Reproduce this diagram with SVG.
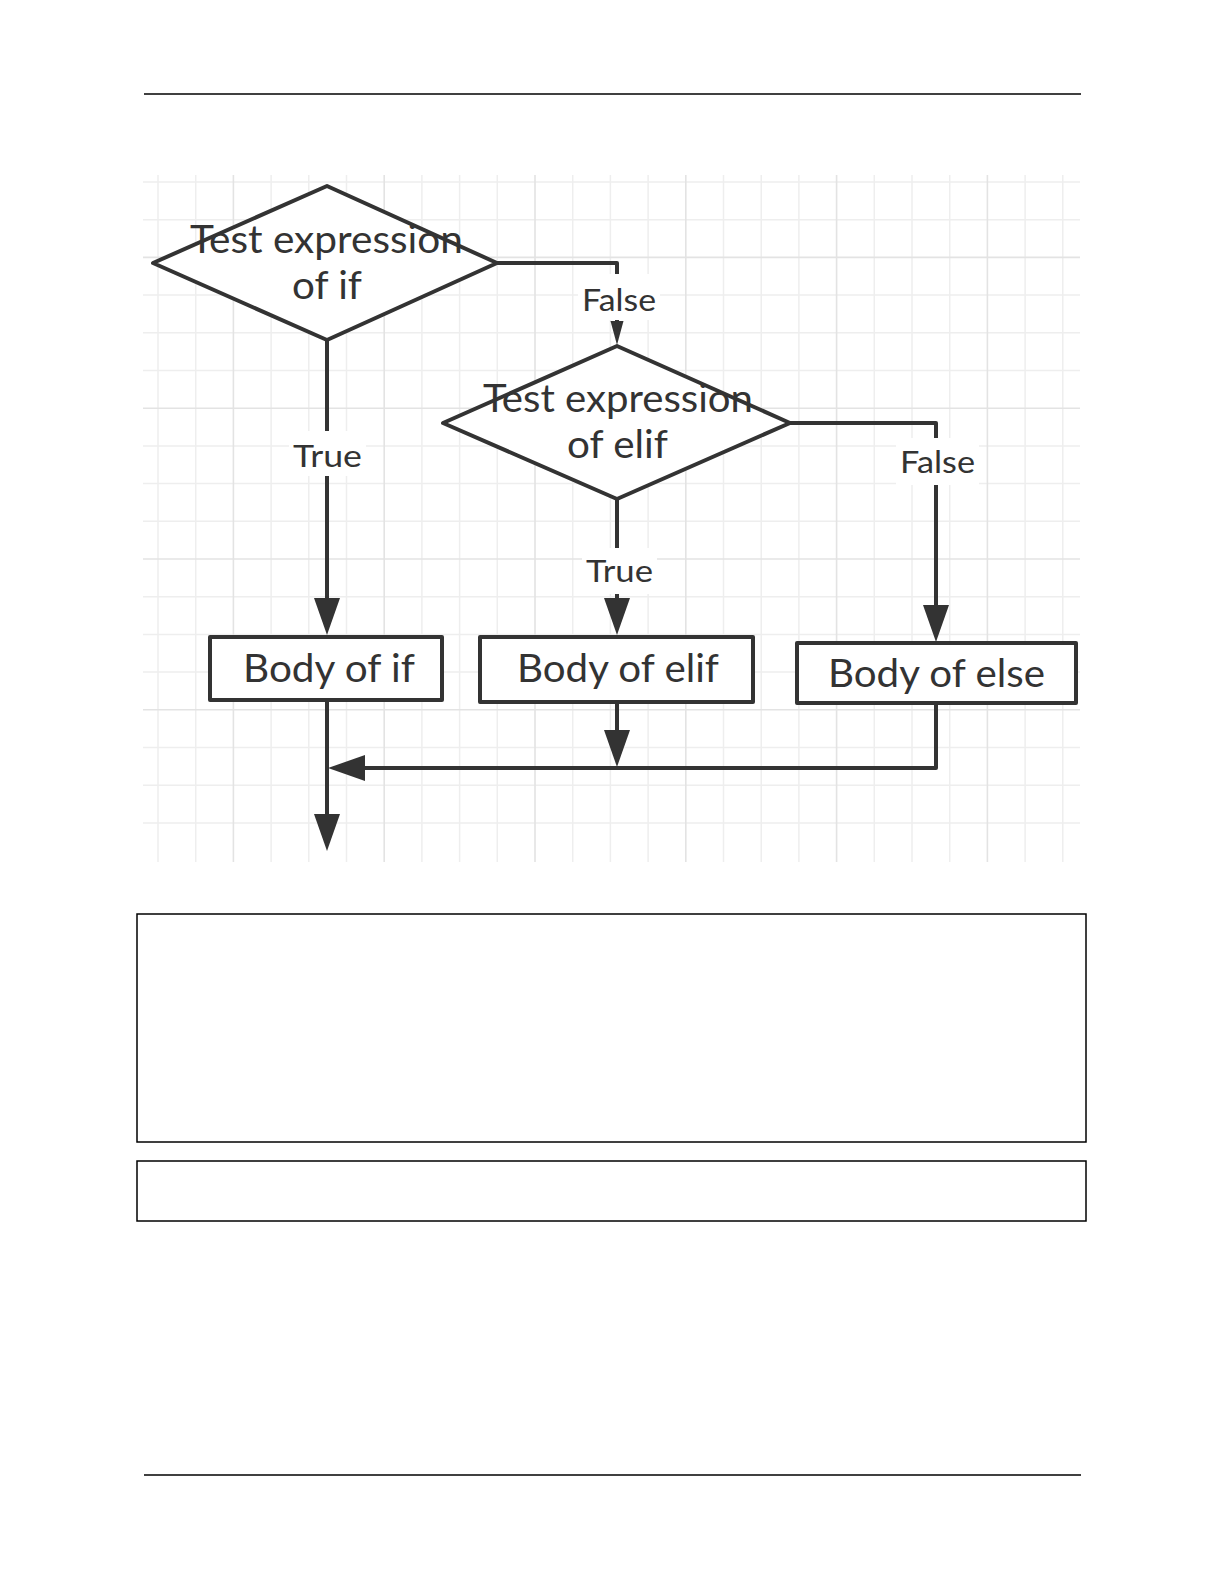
<svg xmlns="http://www.w3.org/2000/svg" width="1224" height="1584" viewBox="0 0 1224 1584">
  <style>
    .grid { fill: none; stroke: #eeeeee; stroke-width: 1.5; }
    .gridMajor { fill: none; stroke: #e3e3e3; stroke-width: 1.6; }
    .shape { fill: #ffffff; stroke: #333333; stroke-width: 4; stroke-linejoin: round; }
    .conn { fill: none; stroke: #333333; stroke-width: 4; stroke-linejoin: round; }
    .txt { font-family: Lato, "Open Sans", "Noto Sans", sans-serif; fill: #333333; text-anchor: middle; }
    .big { font-size: 38px; }
    .lbl { font-size: 31px; }
    .lblbg { fill: #ffffff; stroke: none; }
    .rule { stroke: #000000; stroke-width: 1.5; fill: none; }
  </style>
  <defs>
    <marker id="arrowBig" markerUnits="userSpaceOnUse" markerWidth="38" markerHeight="28" refX="0" refY="13" orient="auto">
      <path d="M0,0 L37,13 L0,26 Z" fill="#333333"/>
    </marker>
    <marker id="arrowSmall" markerUnits="userSpaceOnUse" markerWidth="26" markerHeight="14" refX="0" refY="6.5" orient="auto">
      <path d="M0,0 L24,6.5 L0,13 Z" fill="#333333"/>
    </marker>
  </defs>

  <rect x="0" y="0" width="1224" height="1584" fill="#ffffff"/>

  <!-- page rules -->
  <line class="rule" x1="144" y1="94" x2="1081" y2="94"/>
  <line class="rule" x1="144" y1="1475" x2="1081" y2="1475"/>

  <!-- grid background -->
  <g id="grid">
    <path class="grid" d="M158 175V862M195.7 175V862M271.1 175V862M308.8 175V862M346.5 175V862M421.9 175V862M459.6 175V862M497.3 175V862M572.7 175V862M610.4 175V862M648.1 175V862M723.5 175V862M761.2 175V862M798.9 175V862M874.3 175V862M912 175V862M949.7 175V862M1025.1 175V862M1062.8 175V862"/>
    <path class="grid" d="M143 182H1080M143 219.7H1080M143 295.1H1080M143 332.8H1080M143 370.5H1080M143 445.9H1080M143 483.6H1080M143 521.3H1080M143 596.7H1080M143 634.4H1080M143 672.1H1080M143 747.5H1080M143 785.2H1080M143 822.9H1080"/>
    <path class="gridMajor" d="M233.4 175V862M384.2 175V862M535 175V862M685.8 175V862M836.6 175V862M987.4 175V862M143 257.4H1080M143 408.2H1080M143 559H1080M143 709.8H1080"/>
  </g>

  <!-- connectors -->
  <g id="connectors">
    <path class="conn" d="M497,263 H617 V321" marker-end="url(#arrowSmall)"/>
    <path class="conn" d="M327,340 V598" marker-end="url(#arrowBig)"/>
    <path class="conn" d="M617,499 V598" marker-end="url(#arrowBig)"/>
    <path class="conn" d="M790,423 H936 V605" marker-end="url(#arrowBig)"/>
    <path class="conn" d="M936,703 V768 H365" marker-end="url(#arrowBig)"/>
    <path class="conn" d="M617,702 V730" marker-end="url(#arrowBig)"/>
    <path class="conn" d="M327,700 V814" marker-end="url(#arrowBig)"/>

    <g id="label-false-1">
      <rect class="lblbg" x="578" y="274" width="82" height="46"/>
      <text class="txt lbl" x="619" y="311" textLength="74" lengthAdjust="spacingAndGlyphs">False</text>
    </g>
    <g id="label-true-1">
      <rect class="lblbg" x="289" y="431" width="77" height="45"/>
      <text class="txt lbl" x="327.5" y="467" textLength="69" lengthAdjust="spacingAndGlyphs">True</text>
    </g>
    <g id="label-true-2">
      <rect class="lblbg" x="582" y="548" width="75" height="46"/>
      <text class="txt lbl" x="619.5" y="582" textLength="67" lengthAdjust="spacingAndGlyphs">True</text>
    </g>
    <g id="label-false-2">
      <rect class="lblbg" x="896" y="438" width="83" height="47"/>
      <text class="txt lbl" x="937.5" y="473" textLength="75" lengthAdjust="spacingAndGlyphs">False</text>
    </g>
  </g>

  <!-- nodes -->
  <g id="test-if">
    <polygon class="shape" points="153,263 327,186 497,263 327,340"/>
    <text class="txt big" x="326.5" y="253" textLength="273" lengthAdjust="spacingAndGlyphs">Test expression</text>
    <text class="txt big" x="327" y="299" textLength="70" lengthAdjust="spacingAndGlyphs">of if</text>
  </g>

  <g id="test-elif">
    <polygon class="shape" points="443,423 617,346 790,423 617,499"/>
    <text class="txt big" x="618" y="412" textLength="270" lengthAdjust="spacingAndGlyphs">Test expression</text>
    <text class="txt big" x="617.5" y="458" textLength="101" lengthAdjust="spacingAndGlyphs">of elif</text>
  </g>

  <g id="body-if">
    <rect class="shape" x="210" y="637" width="232" height="63"/>
    <text class="txt big" x="329" y="682" textLength="172" lengthAdjust="spacingAndGlyphs">Body of if</text>
  </g>

  <g id="body-elif">
    <rect class="shape" x="480" y="637" width="273" height="65"/>
    <text class="txt big" x="618" y="682" textLength="202" lengthAdjust="spacingAndGlyphs">Body of elif</text>
  </g>

  <g id="body-else">
    <rect class="shape" x="797" y="643" width="279" height="60"/>
    <text class="txt big" x="936.5" y="687" textLength="217" lengthAdjust="spacingAndGlyphs">Body of else</text>
  </g>

  <!-- empty frames below the figure -->
  <rect class="rule" x="137" y="914" width="949" height="228"/>
  <rect class="rule" x="137" y="1161" width="949" height="60"/>
</svg>
